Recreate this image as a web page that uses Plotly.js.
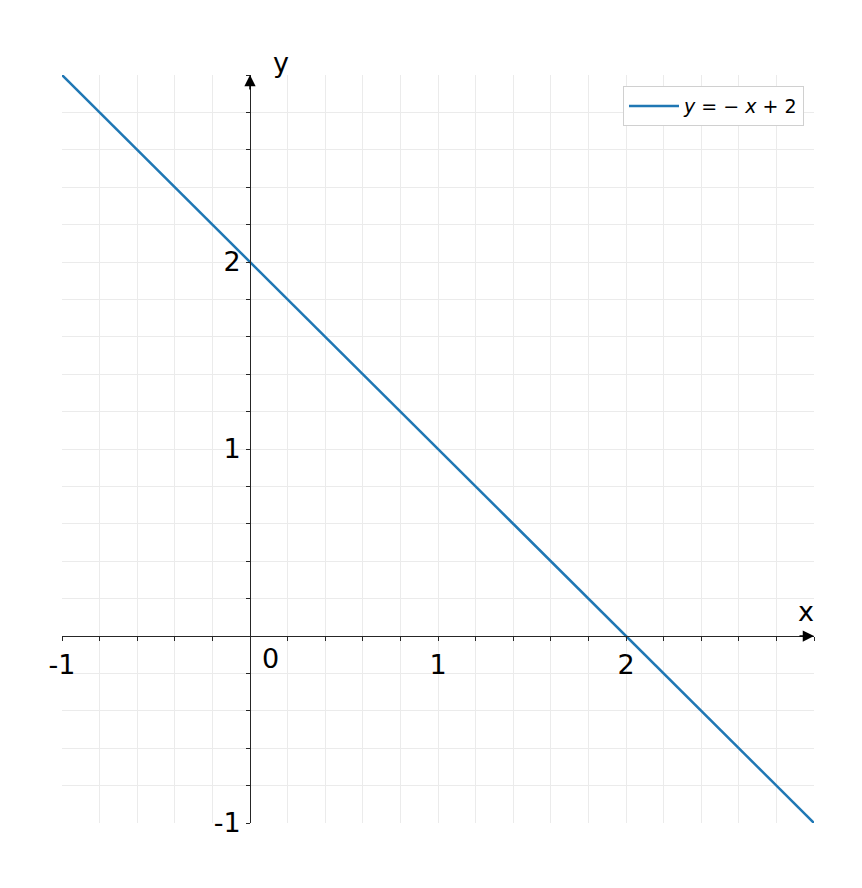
<!DOCTYPE html>
<html>
<head>
<meta charset="utf-8">
<script src="https://cdn.plot.ly/plotly-3.0.1.min.js"></script>
<style>html,body{margin:0;padding:0;background:#fff;}#plot{width:862px;height:888px;}</style>
</head>
<body>
<div id="plot"></div>
<script>
// Data
const lineX = [-1, 3];
const lineY = [3, -1];
const seriesName = '<i>y</i> = − <i>x</i> + 2';
const xTickVals = [-1, 1, 2];
const xTickText = ['-1', '1', '2'];
const yTickVals = [-1, 1, 2];
const yTickText = ['-1', '1', '2'];
const originLabel = '0';
const xRange = [-1, 3];
const yRange = [-1, 3];

const axisColor = '#262626';
const gridColor = '#ebebeb';
const fontFam = 'DejaVu Sans, sans-serif';

const trace = {
  x: lineX, y: lineY, mode: 'lines', name: seriesName,
  line: {color: '#1f77b4', width: 2.5}, showlegend: true
};

const zeroFracX = (0 - xRange[0]) / (xRange[1] - xRange[0]);
const zeroFracY = (0 - yRange[0]) / (yRange[1] - yRange[0]);

const layout = {
  width: 862, height: 888,
  margin: {l: 62, r: 48, t: 75, b: 65},
  paper_bgcolor: '#fff', plot_bgcolor: '#fff',
  font: {family: fontFam, color: '#000'},
  xaxis: {
    range: xRange, anchor: 'free', position: zeroFracY,
    showline: true, linecolor: axisColor, linewidth: 1.3,
    zeroline: false,
    tickmode: 'array', tickvals: xTickVals, ticktext: xTickText,
    ticks: 'outside', ticklen: 4, tickcolor: axisColor, tickwidth: 1,
    tickfont: {size: 27, family: fontFam, color: '#000'},
    showgrid: true, gridcolor: gridColor, gridwidth: 1,
    minor: {dtick: 0.2, ticks: 'outside', ticklen: 4, tickcolor: axisColor, showgrid: true, gridcolor: gridColor, gridwidth: 1},
    fixedrange: true
  },
  yaxis: {
    range: yRange, anchor: 'free', position: zeroFracX,
    showline: true, linecolor: axisColor, linewidth: 1.3,
    zeroline: false,
    tickmode: 'array', tickvals: yTickVals, ticktext: yTickText,
    ticks: 'outside', ticklen: 4, tickcolor: axisColor, tickwidth: 1,
    tickfont: {size: 27, family: fontFam, color: '#000'},
    showgrid: true, gridcolor: gridColor, gridwidth: 1,
    minor: {dtick: 0.2, ticks: 'outside', ticklen: 4, tickcolor: axisColor, showgrid: true, gridcolor: gridColor, gridwidth: 1},
    fixedrange: true
  },
  legend: {
    x: 0.9867, y: 0.985, xanchor: 'right', yanchor: 'top',
    bgcolor: '#fff', bordercolor: '#d0d0d0', borderwidth: 1,
    itemwidth: 50,
    font: {size: 19, family: fontFam, color: '#000'}
  },
  annotations: [
    {x: xRange[1], y: 0, xref: 'x', yref: 'y', ax: -16, ay: 0, showarrow: true,
     arrowhead: 2, arrowsize: 1.5, arrowwidth: 1.5, arrowcolor: '#000', text: ''},
    {x: 0, y: yRange[1], xref: 'x', yref: 'y', ax: 0, ay: 16, showarrow: true,
     arrowhead: 2, arrowsize: 1.5, arrowwidth: 1.5, arrowcolor: '#000', text: ''},
    {x: xRange[1], y: 0, xref: 'x', yref: 'y', xshift: -8, yshift: 25, showarrow: false,
     text: 'x', font: {size: 27, family: fontFam, color: '#000'}},
    {x: 0, y: yRange[1], xref: 'x', yref: 'y', xshift: 31, yshift: 13, showarrow: false,
     text: 'y', font: {size: 27, family: fontFam, color: '#000'}},
    {x: 0, y: 0, xref: 'x', yref: 'y', xshift: 20, yshift: -22, showarrow: false,
     text: originLabel, font: {size: 27, family: fontFam, color: '#000'}}
  ]
};

Plotly.newPlot('plot', [trace], layout, {displayModeBar: false, staticPlot: true});
</script>
</body>
</html>
